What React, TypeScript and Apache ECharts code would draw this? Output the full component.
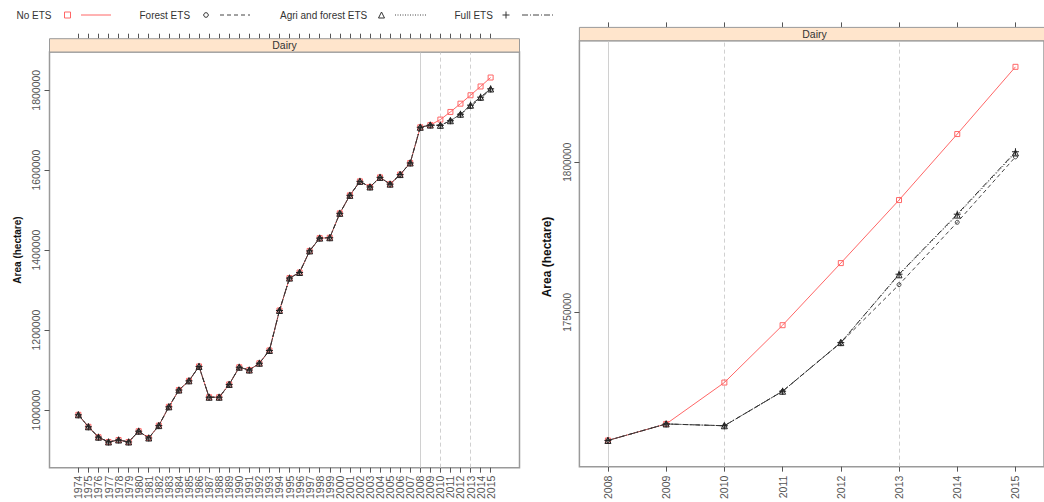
import React, { useEffect, useRef } from "react";
import * as echarts from "echarts";

// ---------- data ----------
const years = [
  1974, 1975, 1976, 1977, 1978, 1979, 1980, 1981, 1982, 1983, 1984, 1985, 1986, 1987,
  1988, 1989, 1990, 1991, 1992, 1993, 1994, 1995, 1996, 1997, 1998, 1999, 2000, 2001,
  2002, 2003, 2004, 2005, 2006, 2007, 2008, 2009, 2010, 2011, 2012, 2013, 2014, 2015,
];
// observed dairy area 1974-2009 (common to all scenarios)
const history = [
  988000, 958000, 932000, 920000, 925000, 920000, 947000, 930000, 961000, 1008000,
  1050000, 1073000, 1109000, 1032000, 1032000, 1064000, 1107000, 1100000, 1117000, 1149000,
  1249000, 1330000, 1344000, 1398000, 1430000, 1431000, 1492000, 1537000, 1572000, 1558000,
  1582000, 1565000, 1589000, 1618000, 1707300, 1712800,
];
// projections 2010-2015
const noEts = [1726600, 1745700, 1766400, 1787400, 1809400, 1831800];
const forestEts = [1712200, 1723700, 1739900, 1759200, 1780000, 1801800];
const agriForestEts = [1712200, 1723700, 1739900, 1762500, 1782400, 1803100];
const fullEts = [1712200, 1723700, 1739900, 1762700, 1782700, 1803500];

const seriesNames = ["No ETS", "Forest ETS", "Agri and forest ETS", "Full ETS"];
const leftYTicks = [1000000, 1200000, 1400000, 1600000, 1800000];
const rightYTicks = [1750000, 1800000];
const rightYears = [2008, 2009, 2010, 2011, 2012, 2013, 2014, 2015];
const refSolid = [2008];
const refDashed = [2010, 2013];
const panelTitle = "Dairy";
const yTitle = "Area (hectare)";

// ---------- styles ----------
const FONT = "Liberation Sans, Arial, Helvetica, sans-serif";
const RED = "#ff6666";
const BOX = "#9a9a9a";
const STRIP = "#ffe5cc";
const PLUS = "path://M0,5L10,5M5,0L5,10";

const seriesStyle = [
  { symbol: "rect", size: 5, color: RED, line: RED, dash: "solid" as any, lw: 1 },
  { symbol: "circle", size: 4, color: "#444", line: "#444", dash: [4, 3], lw: 1 },
  { symbol: "triangle", size: 6, color: "#222", line: "#444", dash: [1, 2], lw: 1 },
  { symbol: PLUS, size: 7, color: "#222", line: "#333", dash: [6, 2, 1, 2], lw: 1 },
];

function fullSeries(idx: number): number[] {
  const proj = [noEts, forestEts, agriForestEts, fullEts][idx];
  return history.concat(proj);
}

export default function App() {
  const ref = useRef<HTMLDivElement>(null);
  useEffect(() => {
    if (!ref.current) return;
    const chart = echarts.init(ref.current, null, { renderer: "svg" });

    const L = { left: 49.5, top: 52, width: 470, height: 416 };
    const R = { left: 579.4, top: 40.7, width: 470.2, height: 428.3 };
    const stripH = 13.3;
    const evenYears = years.filter((_, i) => i % 2 === 0);
    const oddYears = years.filter((_, i) => i % 2 === 1);

    const makeSeries = (idx: number, gridIdx: number) => {
      const st = seriesStyle[idx];
      const vals = fullSeries(idx);
      const data = years
        .map((y, i) => [y, vals[i]])
        .filter((d) => gridIdx === 0 || rightYears.indexOf(d[0]) >= 0);
      const s: any = {
        type: "line",
        name: seriesNames[idx] + (gridIdx ? " (zoom)" : ""),
        xAxisIndex: gridIdx === 0 ? 0 : 3,
        yAxisIndex: gridIdx,
        data,
        symbol: st.symbol,
        symbolSize: st.size,
        showSymbol: true,
        itemStyle: { color: "rgba(0,0,0,0)", borderColor: st.color, borderWidth: 1 },
        lineStyle: { color: st.line, width: st.lw, type: st.dash },
        emphasis: { disabled: true },
        silent: true,
        z: 3 + idx,
      };
      if (idx === 0) {
        s.markLine = {
          silent: true,
          symbol: "none",
          label: { show: false },
          z: 1,
          data: [
            ...refSolid.map((x) => ({ xAxis: x, lineStyle: { color: "#d0d0d0", type: "solid", width: 1 } })),
            ...refDashed.map((x) => ({ xAxis: x, lineStyle: { color: "#d0d0d0", type: [4, 3], width: 1 } })),
          ],
        };
      }
      return s;
    };

    const tickLabelStyle = (size: number) => ({
      fontFamily: FONT,
      fontSize: size,
      color: "#555",
    });

    const xAxisBase = (
      gridIndex: number, min: number, max: number, ticks: number[] | null,
      labels: number[], margin: number, fs: number
    ) => ({
      type: "value",
      gridIndex,
      min,
      max,
      position: "bottom",
      offset: 0,
      axisLine: { show: false },
      splitLine: { show: false },
      axisTick: ticks
        ? { show: true, length: 5, customValues: ticks, lineStyle: { color: "#555" } }
        : { show: false },
      axisLabel: {
        show: true,
        customValues: labels,
        rotate: 90,
        margin,
        showMinLabel: true,
        showMaxLabel: true,
        formatter: (v: number) => String(v),
        ...tickLabelStyle(fs),
      },
    });

    const xAxisTop = (gridIndex: number, min: number, max: number, ticks: number[]) => ({
      type: "value",
      gridIndex,
      min,
      max,
      position: "top",
      offset: stripH,
      axisLine: { show: false },
      splitLine: { show: false },
      axisTick: { show: true, length: 5, customValues: ticks, lineStyle: { color: "#555" } },
      axisLabel: { show: false },
    });

    const yAxisBase = (gridIndex: number, min: number, max: number, ticks: number[], margin: number, fs: number) => ({
      type: "value",
      gridIndex,
      min,
      max,
      axisLine: { show: false },
      splitLine: { show: false },
      axisTick: { show: true, length: 5, customValues: ticks, lineStyle: { color: "#555" } },
      axisLabel: {
        show: true,
        customValues: ticks,
        rotate: 90,
        margin,
        showMinLabel: true,
        showMaxLabel: true,
        formatter: (v: number) => String(v),
        ...tickLabelStyle(fs),
      },
    });

    const legendY = 15;
    const graphic: any[] = [
      // strips
      { type: "rect", shape: { x: L.left, y: L.top - stripH, width: L.width, height: stripH }, style: { fill: STRIP, stroke: BOX, lineWidth: 1 }, z: 10 },
      { type: "text", x: L.left + L.width / 2, y: L.top - stripH / 2, style: { text: panelTitle, font: `10.5px ${FONT}`, fill: "#333", align: "center", verticalAlign: "middle" }, z: 11 },
      { type: "rect", shape: { x: R.left, y: R.top - stripH, width: R.width, height: stripH }, style: { fill: STRIP, stroke: BOX, lineWidth: 1 }, z: 10 },
      { type: "text", x: R.left + R.width / 2, y: R.top - stripH / 2, style: { text: panelTitle, font: `10.5px ${FONT}`, fill: "#333", align: "center", verticalAlign: "middle" }, z: 11 },
      // y titles
      { type: "text", x: 17, y: 250, rotation: Math.PI / 2, style: { text: yTitle, font: `bold 10px ${FONT}`, fill: "#111", align: "center", verticalAlign: "middle" }, z: 11 },
      { type: "text", x: 547, y: 257, rotation: Math.PI / 2, style: { text: yTitle, font: `bold 12px ${FONT}`, fill: "#111", align: "center", verticalAlign: "middle" }, z: 11 },
      // legend
      { type: "text", x: 16.5, y: legendY, style: { text: seriesNames[0], font: `10px ${FONT}`, fill: "#333", verticalAlign: "middle" } },
      { type: "rect", shape: { x: 64.5, y: legendY - 3, width: 6, height: 6 }, style: { fill: "none", stroke: RED, lineWidth: 1 } },
      { type: "line", shape: { x1: 81, y1: legendY, x2: 111, y2: legendY }, style: { stroke: RED, lineWidth: 1 } },
      { type: "text", x: 139.5, y: legendY, style: { text: seriesNames[1], font: `10px ${FONT}`, fill: "#333", verticalAlign: "middle" } },
      { type: "circle", shape: { cx: 206, cy: legendY, r: 2.3 }, style: { fill: "none", stroke: "#333", lineWidth: 1 } },
      { type: "line", shape: { x1: 220, y1: legendY, x2: 250, y2: legendY }, style: { stroke: "#444", lineWidth: 1, lineDash: [4, 3] } },
      { type: "text", x: 280, y: legendY, style: { text: seriesNames[2], font: `10px ${FONT}`, fill: "#333", verticalAlign: "middle" } },
      { type: "polygon", shape: { points: [[378.5, legendY + 3], [384.5, legendY + 3], [381.5, legendY - 3]] }, style: { fill: "none", stroke: "#333", lineWidth: 1 } },
      { type: "line", shape: { x1: 395, y1: legendY, x2: 426, y2: legendY }, style: { stroke: "#444", lineWidth: 1, lineDash: [1, 1.5] } },
      { type: "text", x: 454.5, y: legendY, style: { text: seriesNames[3], font: `10px ${FONT}`, fill: "#333", verticalAlign: "middle" } },
      { type: "line", shape: { x1: 502.5, y1: legendY, x2: 509.5, y2: legendY }, style: { stroke: "#333", lineWidth: 1 } },
      { type: "line", shape: { x1: 506, y1: legendY - 3.5, x2: 506, y2: legendY + 3.5 }, style: { stroke: "#333", lineWidth: 1 } },
      { type: "line", shape: { x1: 522, y1: legendY, x2: 553, y2: legendY }, style: { stroke: "#444", lineWidth: 1, lineDash: [6, 2, 1, 2] } },
    ];

    const option: any = {
      animation: false,
      backgroundColor: "#ffffff",
      textStyle: { fontFamily: FONT },
      grid: [
        { ...L, show: true, borderColor: BOX, borderWidth: 1.5, backgroundColor: "transparent", containLabel: false },
        { ...R, show: true, borderColor: BOX, borderWidth: 1.5, backgroundColor: "transparent", containLabel: false },
      ],
      xAxis: [
        xAxisBase(0, 1971.13, 2017.87, years, evenYears, 8, 10.5),
        xAxisBase(0, 1971.13, 2017.87, null, oddYears, 8, 10.5),
        xAxisTop(0, 1971.13, 2017.87, years),
        xAxisBase(1, 2007.51, 2015.49, rightYears, rightYears, 9, 10.5),
        xAxisTop(1, 2007.51, 2015.49, rightYears),
      ],
      yAxis: [
        yAxisBase(0, 855850, 1895650, leftYTicks, 8, 10.5),
        yAxisBase(1, 1698575, 1840505, rightYTicks, 6.5, 10),
      ],
      series: [
        ...[0, 1, 2, 3].map((i) => makeSeries(i, 0)),
        ...[0, 1, 2, 3].map((i) => makeSeries(i, 1)),
      ],
      graphic,
    };
    chart.setOption(option);
    return () => chart.dispose();
  }, []);

  return (
    <div
      ref={ref}
      style={{ position: "absolute", left: 0, top: 0, width: 1044, height: 502, background: "#fff" }}
    />
  );
}
